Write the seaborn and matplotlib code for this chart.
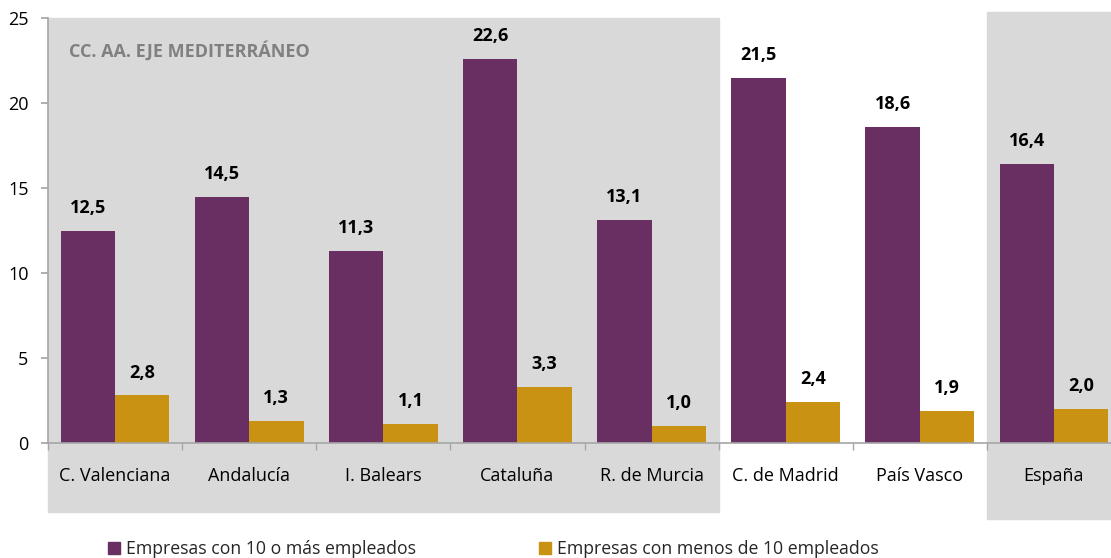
import pandas as pd
import seaborn as sns
import matplotlib.pyplot as plt
from matplotlib.patches import Rectangle

# -------------------------------
# Data
# -------------------------------
regiones = ["C. Valenciana", "Andalucía", "I. Balears", "Cataluña", "R. de Murcia",
            "C. de Madrid", "País Vasco", "España"]
grandes = [12.5, 14.5, 11.3, 22.6, 13.1, 21.5, 18.6, 16.4]
pequenas = [2.8, 1.3, 1.1, 3.3, 1.0, 2.4, 1.9, 2.0]
series = ["Empresas con 10 o más empleados", "Empresas con menos de 10 empleados"]
colores = ["#692f62", "#c99212"]

df = pd.DataFrame({
    "region": regiones * 2,
    "valor": grandes + pequenas,
    "serie": [series[0]] * len(regiones) + [series[1]] * len(regiones),
})

# -------------------------------
# Plot
# -------------------------------
sns.set_theme(style="white")
plt.rcParams["font.family"] = ["Open Sans", "DejaVu Sans"]

fig = plt.figure(figsize=(11.11, 5.58), dpi=100)
ax = fig.add_axes([48 / 1111, (558 - 443) / 558, (1121 - 48) / 1111, (443 - 18) / 558])

gris = "#d9d9d9"
# shaded groups (extend below the axis)
ax.add_patch(Rectangle((-0.5, -4.06), 5, 29.06, color=gris, zorder=0, clip_on=False))
ax.add_patch(Rectangle((6.5, -4.47), 1.2, 29.82, color=gris, zorder=0, clip_on=False))

sns.barplot(data=df, x="region", y="valor", hue="serie", palette=colores,
            saturation=1, width=0.81, ax=ax, legend=False, zorder=2,
            linewidth=0, edgecolor="none")

for cont in ax.containers:
    labels = [f"{v:.1f}".replace(".", ",") for v in cont.datavalues]
    ax.bar_label(cont, labels=labels, padding=10, fontsize=13,
                 fontweight="bold", color="black")

ax.set_xlim(-0.5, 7.5)
ax.set_ylim(0, 25)
ax.set_yticks(range(0, 26, 5))
ax.set_xlabel("")
ax.set_ylabel("")
ax.set_facecolor("none")
fig.patch.set_facecolor("white")

for s in ["top", "right"]:
    ax.spines[s].set_visible(False)
for s in ["left", "bottom"]:
    ax.spines[s].set_color("#a6a6a6")
    ax.spines[s].set_linewidth(1.2)
    ax.spines[s].set_zorder(3)

ax.tick_params(axis="y", which="major", left=True, length=5, color="#a6a6a6",
               labelsize=13, pad=9, labelcolor="black")
ax.set_xticks([i + 0.5 for i in range(-1, 8)], minor=True)
ax.tick_params(axis="x", which="minor", bottom=True, length=5, color="#a6a6a6")
ax.tick_params(axis="x", which="major", bottom=False, labelsize=13, pad=11,
               labelcolor="black")

ax.text(0.02, 0.922, "CC. AA. EJE MEDITERRÁNEO", transform=ax.transAxes,
        fontsize=13, fontweight="bold", color="#808080", va="center")

handles = [Rectangle((0, 0), 1, 1, color=c) for c in colores]
fig.legend(handles, series, loc="center", bbox_to_anchor=(0.444, 0.016),
           ncol=2, frameon=False, fontsize=12.7, handlelength=0.7, handleheight=0.7,
           handletextpad=0.3, columnspacing=7.0, borderpad=0)

plt.savefig("out.png", dpi=100)
plt.close()
